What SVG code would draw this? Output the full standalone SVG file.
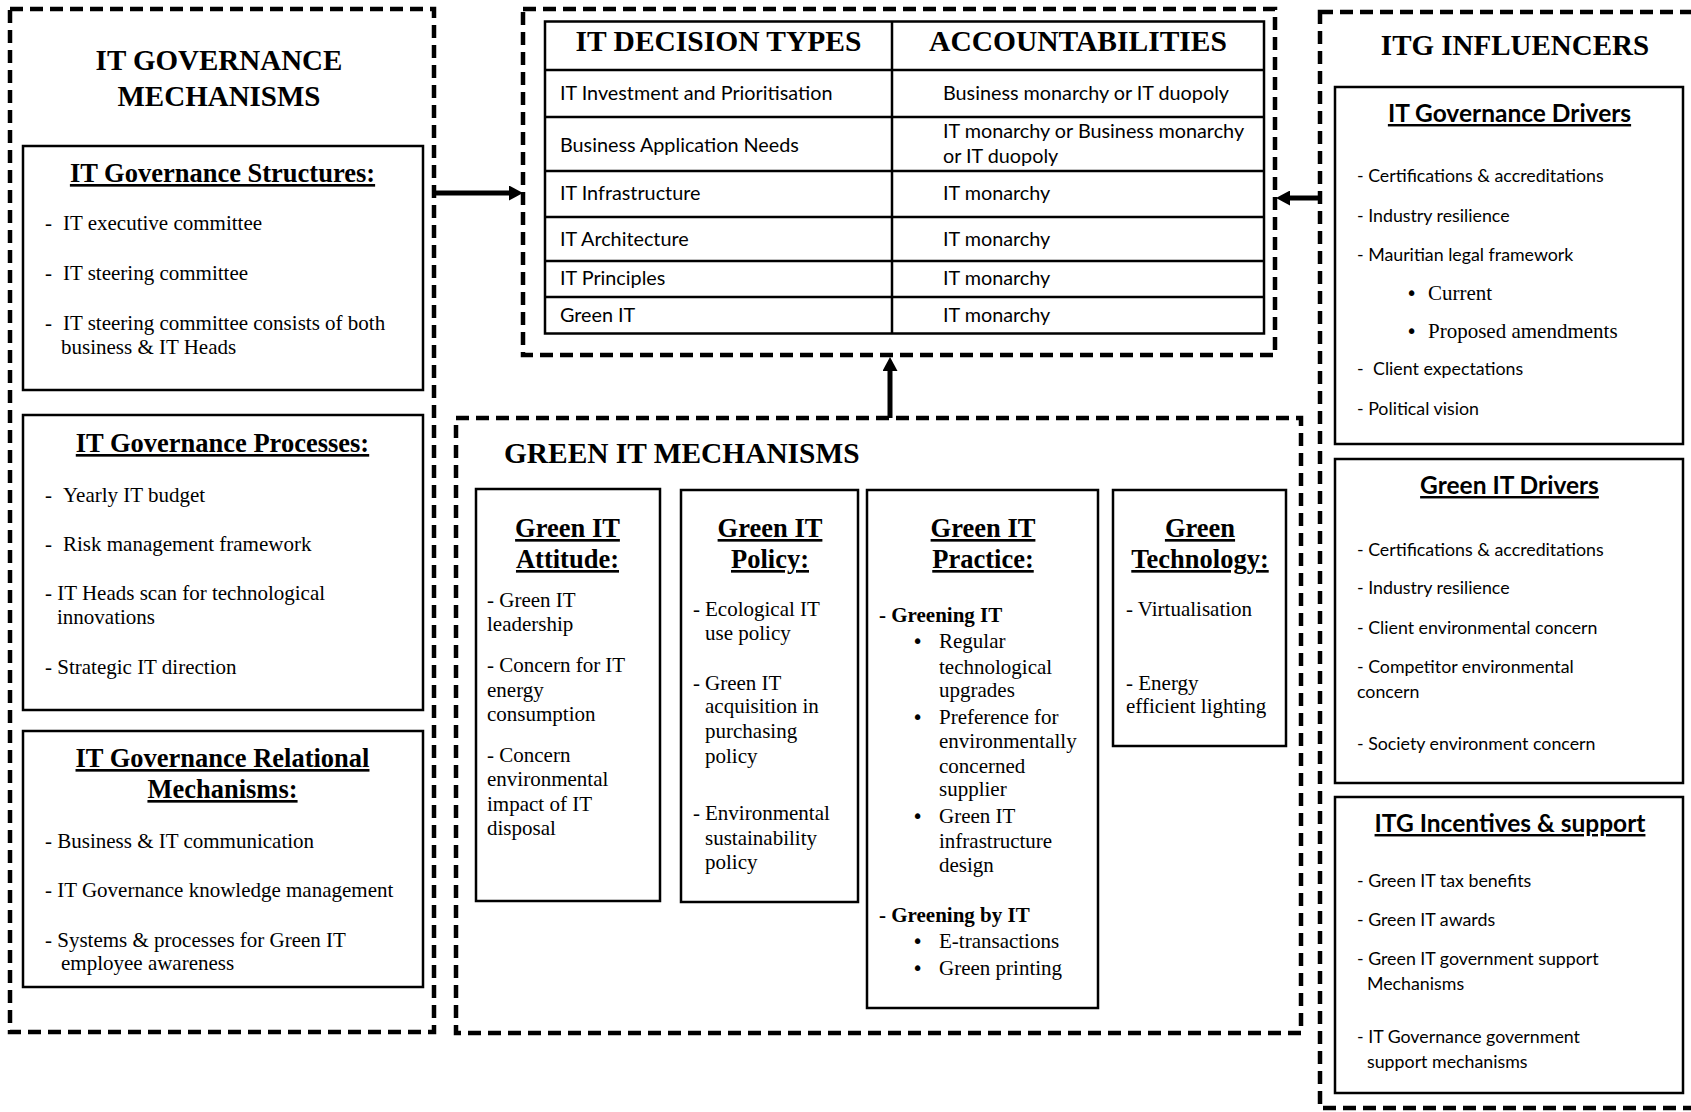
<svg xmlns="http://www.w3.org/2000/svg" width="1691" height="1112" viewBox="0 0 1691 1112">
<defs>
<style>
.dash{fill:none;stroke:#000;stroke-width:4.5;stroke-dasharray:13 7}
.box{fill:#fff;stroke:#000;stroke-width:2.5}
.ln{stroke:#000;stroke-width:2.5}
.ser{font-family:"Liberation Serif","Times New Roman",serif;fill:#000}
.sb{font-weight:bold}
.big{font-size:29px;font-weight:bold}
.hdr{font-size:29.5px;font-weight:bold}
.ttl{font-size:26.5px;font-weight:bold;text-decoration:underline}
.it{font-size:21px}
.san{font-family:Lato,"Open Sans","Liberation Sans",sans-serif;fill:#000}
.tbl{font-size:19.8px}
.rt{font-size:17.8px}
.rtt{font-size:24.5px;font-weight:bold;text-decoration:underline}
.bul{font-family:"DejaVu Sans",sans-serif;font-size:19px;fill:#000}
.mid{text-anchor:middle}
.arrow{stroke:#000;stroke-width:5;fill:none}
</style>
<marker id="ah" markerUnits="userSpaceOnUse" markerWidth="14" markerHeight="15" viewBox="0 0 14 15" refX="0" refY="7.5" orient="auto">
<path d="M0,0 L14,7.5 L0,15 z" fill="#000"/>
</marker>
</defs>
<rect width="1691" height="1112" fill="#fff"/>

<g id="itg-mechanisms">
<rect class="dash" x="10" y="9" width="424" height="1023"/>
<text class="ser big mid" x="219" y="70">IT GOVERNANCE</text>
<text class="ser big mid" x="219" y="106">MECHANISMS</text>
</g>

<g id="itg-structures">
<rect class="box" x="23" y="146" width="400" height="244"/>
<text class="ser ttl mid" x="222.5" y="182">IT Governance Structures:</text>
<text class="ser it" x="45" y="230">-<tspan x="63">IT executive committee</tspan></text>
<text class="ser it" x="45" y="280">-<tspan x="63">IT steering committee</tspan></text>
<text class="ser it" x="45" y="330">-<tspan x="63">IT steering committee consists of both</tspan></text>
<text class="ser it" x="61" y="354">business &amp; IT Heads</text>
</g>

<g id="itg-processes">
<rect class="box" x="23" y="415" width="400" height="295"/>
<text class="ser ttl mid" x="222.5" y="452">IT Governance Processes:</text>
<text class="ser it" x="45" y="502">-<tspan x="63">Yearly IT budget</tspan></text>
<text class="ser it" x="45" y="551">-<tspan x="63">Risk management framework</tspan></text>
<text class="ser it" x="45" y="600">- IT Heads scan for technological</text>
<text class="ser it" x="57" y="624">innovations</text>
<text class="ser it" x="45" y="674">- Strategic IT direction</text>
</g>

<g id="itg-relational">
<rect class="box" x="23" y="731" width="400" height="256"/>
<text class="ser ttl mid" x="222.5" y="767">IT Governance Relational</text>
<text class="ser ttl mid" x="222.5" y="798">Mechanisms:</text>
<text class="ser it" x="45" y="848">- Business &amp; IT communication</text>
<text class="ser it" x="45" y="897">- IT Governance knowledge management</text>
<text class="ser it" x="45" y="947">- Systems &amp; processes for Green IT</text>
<text class="ser it" x="61" y="970">employee awareness</text>
</g>

<g id="decision-table">
<rect class="dash" x="523" y="9" width="752" height="346"/>
<rect class="box" x="545" y="21.5" width="719" height="312"/>
<line class="ln" x1="892" y1="21.5" x2="892" y2="333.5"/>
<line class="ln" x1="545" y1="70" x2="1264" y2="70"/>
<line class="ln" x1="545" y1="117" x2="1264" y2="117"/>
<line class="ln" x1="545" y1="171" x2="1264" y2="171"/>
<line class="ln" x1="545" y1="217" x2="1264" y2="217"/>
<line class="ln" x1="545" y1="261" x2="1264" y2="261"/>
<line class="ln" x1="545" y1="297" x2="1264" y2="297"/>
<text class="ser hdr mid" x="718.5" y="51">IT DECISION TYPES</text>
<text class="ser hdr mid" x="1078" y="51">ACCOUNTABILITIES</text>
<text class="san tbl" x="560" y="100">IT Investment and Prioritisation</text>
<text class="san tbl" x="943" y="100">Business monarchy or IT duopoly</text>
<text class="san tbl" x="560" y="152">Business Application Needs</text>
<text class="san tbl" x="943" y="138">IT monarchy or Business monarchy</text>
<text class="san tbl" x="943" y="163">or IT duopoly</text>
<text class="san tbl" x="560" y="200">IT Infrastructure</text>
<text class="san tbl" x="943" y="200">IT monarchy</text>
<text class="san tbl" x="560" y="246">IT Architecture</text>
<text class="san tbl" x="943" y="246">IT monarchy</text>
<text class="san tbl" x="560" y="285">IT Principles</text>
<text class="san tbl" x="943" y="285">IT monarchy</text>
<text class="san tbl" x="560" y="322">Green IT</text>
<text class="san tbl" x="943" y="322">IT monarchy</text>
</g>

<g id="green-it-mechanisms">
<rect class="dash" x="456" y="418" width="845" height="615"/>
<text class="ser big" x="504" y="463" style="font-size:29.4px">GREEN IT MECHANISMS</text>
</g>

<g id="green-attitude">
<rect class="box" x="476" y="489" width="184" height="412"/>
<text class="ser ttl mid" x="567.5" y="537">Green IT</text>
<text class="ser ttl mid" x="567.5" y="568">Attitude:</text>
<text class="ser it" x="487" y="607">- Green IT</text>
<text class="ser it" x="487" y="631">leadership</text>
<text class="ser it" x="487" y="672">- Concern for IT</text>
<text class="ser it" x="487" y="697">energy</text>
<text class="ser it" x="487" y="721">consumption</text>
<text class="ser it" x="487" y="762">- Concern</text>
<text class="ser it" x="487" y="786">environmental</text>
<text class="ser it" x="487" y="811">impact of IT</text>
<text class="ser it" x="487" y="835">disposal</text>
</g>

<g id="green-policy">
<rect class="box" x="681" y="490" width="177" height="412"/>
<text class="ser ttl mid" x="770" y="537">Green IT</text>
<text class="ser ttl mid" x="770" y="568">Policy:</text>
<text class="ser it" x="693" y="616">-<tspan x="705">Ecological IT</tspan></text>
<text class="ser it" x="705" y="640">use policy</text>
<text class="ser it" x="693" y="690">-<tspan x="705">Green IT</tspan></text>
<text class="ser it" x="705" y="713">acquisition in</text>
<text class="ser it" x="705" y="738">purchasing</text>
<text class="ser it" x="705" y="763">policy</text>
<text class="ser it" x="693" y="820">-<tspan x="705">Environmental</tspan></text>
<text class="ser it" x="705" y="845">sustainability</text>
<text class="ser it" x="705" y="869">policy</text>
</g>

<g id="green-practice">
<rect class="box" x="867" y="490" width="231" height="518"/>
<text class="ser ttl mid" x="983" y="537">Green IT</text>
<text class="ser ttl mid" x="983" y="568">Practice:</text>
<text class="ser it sb" x="879" y="622">- Greening IT</text>
<text class="bul" x="912" y="648">•</text>
<text class="ser it" x="939" y="648">Regular</text>
<text class="ser it" x="939" y="674">technological</text>
<text class="ser it" x="939" y="697">upgrades</text>
<text class="bul" x="912" y="724">•</text>
<text class="ser it" x="939" y="724">Preference for</text>
<text class="ser it" x="939" y="748">environmentally</text>
<text class="ser it" x="939" y="773">concerned</text>
<text class="ser it" x="939" y="796">supplier</text>
<text class="bul" x="912" y="823">•</text>
<text class="ser it" x="939" y="823">Green IT</text>
<text class="ser it" x="939" y="848">infrastructure</text>
<text class="ser it" x="939" y="872">design</text>
<text class="ser it sb" x="879" y="922">- Greening by IT</text>
<text class="bul" x="912" y="948">•</text>
<text class="ser it" x="939" y="948">E-transactions</text>
<text class="bul" x="912" y="975">•</text>
<text class="ser it" x="939" y="975">Green printing</text>
</g>

<g id="green-technology">
<rect class="box" x="1113" y="490" width="173" height="256"/>
<text class="ser ttl mid" x="1200" y="537">Green</text>
<text class="ser ttl mid" x="1200" y="568">Technology:</text>
<text class="ser it" x="1126" y="616">- Virtualisation</text>
<text class="ser it" x="1126" y="690">- Energy</text>
<text class="ser it" x="1126" y="713">efficient lighting</text>
</g>

<g id="itg-influencers">
<rect class="dash" x="1320" y="12" width="420" height="1096"/>
<text class="ser big mid" x="1515" y="55">ITG INFLUENCERS</text>
</g>

<g id="itg-drivers">
<rect class="box" x="1335" y="87" width="348" height="357"/>
<text class="san rtt mid" x="1509.5" y="122">IT Governance Drivers</text>
<text class="san rt" x="1357" y="182">- Certifications &amp; accreditations</text>
<text class="san rt" x="1357" y="222">- Industry resilience</text>
<text class="san rt" x="1357" y="261">- Mauritian legal framework</text>
<text class="bul" x="1406" y="300">•</text>
<text class="ser it" x="1428" y="300">Current</text>
<text class="bul" x="1406" y="338">•</text>
<text class="ser it" x="1428" y="338">Proposed amendments</text>
<text class="san rt" x="1357" y="375">-<tspan x="1373">Client expectations</tspan></text>
<text class="san rt" x="1357" y="415">- Political vision</text>
</g>

<g id="green-drivers">
<rect class="box" x="1335" y="459" width="348" height="324"/>
<text class="san rtt mid" x="1509.5" y="494">Green IT Drivers</text>
<text class="san rt" x="1357" y="556">- Certifications &amp; accreditations</text>
<text class="san rt" x="1357" y="594">- Industry resilience</text>
<text class="san rt" x="1357" y="634">- Client environmental concern</text>
<text class="san rt" x="1357" y="673">- Competitor environmental</text>
<text class="san rt" x="1357" y="698">concern</text>
<text class="san rt" x="1357" y="750">- Society environment concern</text>
</g>

<g id="itg-incentives">
<rect class="box" x="1335" y="797" width="348" height="296"/>
<text class="san rtt mid" x="1510" y="832">ITG Incentives &amp; support</text>
<text class="san rt" x="1357" y="887">- Green IT tax benefits</text>
<text class="san rt" x="1357" y="926">- Green IT awards</text>
<text class="san rt" x="1357" y="965">- Green IT government support</text>
<text class="san rt" x="1367" y="990">Mechanisms</text>
<text class="san rt" x="1357" y="1043">- IT Governance government</text>
<text class="san rt" x="1367" y="1068">support mechanisms</text>
</g>

<g id="connectors">
<line class="arrow" x1="434" y1="193" x2="509" y2="193" marker-end="url(#ah)"/>
<line class="arrow" x1="1320" y1="198" x2="1290" y2="198" marker-end="url(#ah)"/>
<line class="arrow" x1="890" y1="418" x2="890" y2="371" marker-end="url(#ah)"/>
</g>
</svg>
